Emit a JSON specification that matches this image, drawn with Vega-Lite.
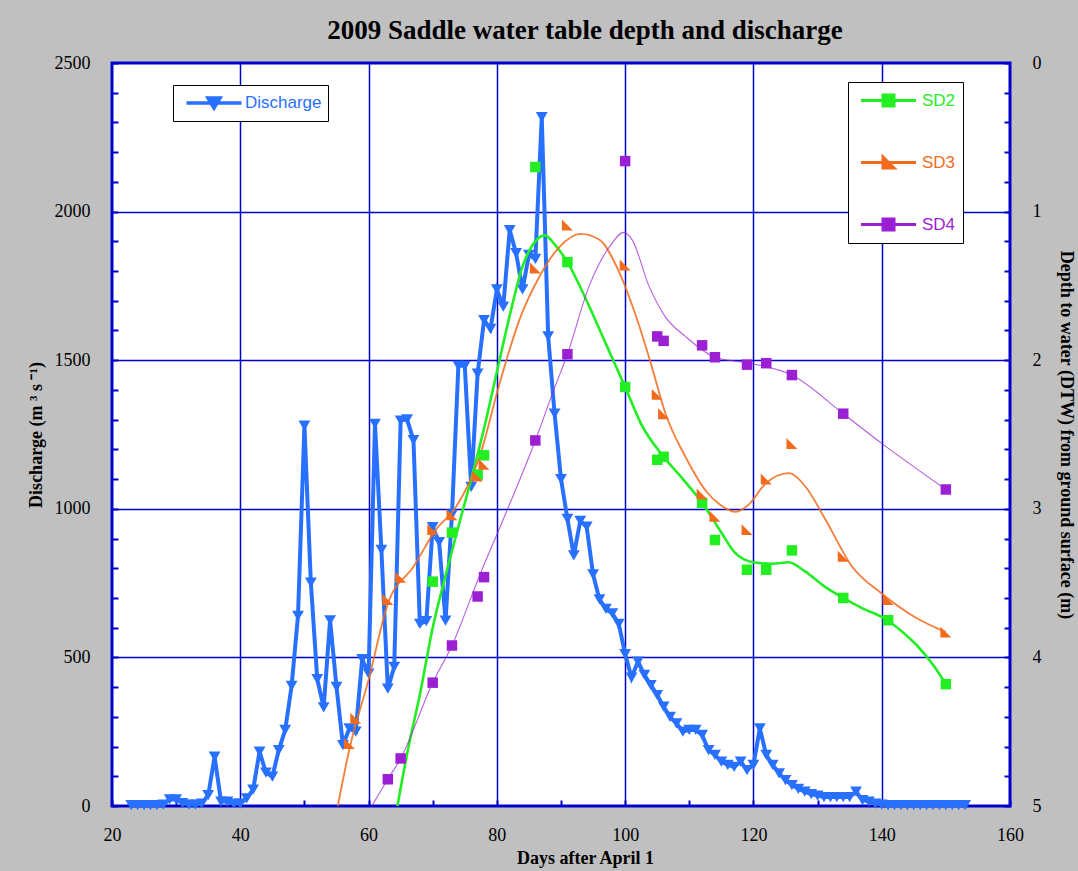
{
  "$schema": "https://vega.github.io/schema/vega-lite/v6.json",
  "width": 898,
  "height": 743,
  "autosize": {"type": "none"},
  "padding": {"left": 112, "top": 63, "right": 68, "bottom": 65},
  "background": "#c0c0c0",
  "title": {"text": "2009 Saddle water table depth and discharge", "font": "Liberation Serif", "fontSize": 27, "fontWeight": "bold", "color": "black", "anchor": "middle", "offset": 9, "dx": 24},
  "config": {
    "view": {"fill": "white", "stroke": "#0000cc", "strokeWidth": 3},
    "axis": {
      "domain": false,
      "tickColor": "#0000cc",
      "tickWidth": 2,
      "tickSize": -6,
      "labelFont": "Liberation Serif",
      "labelFontSize": 18,
      "labelColor": "black",
      "labelOverlap": false,
      "labelFlush": false,
      "titleFont": "Liberation Serif",
      "titleFontSize": 18,
      "titleFontWeight": "bold",
      "titleColor": "black",
      "gridWidth": 1.5
    }
  },
  "datasets": {
    "discharge": [
      {"day": 23, "q": 3}, {"day": 24, "q": 3}, {"day": 25, "q": 3}, {"day": 26, "q": 3}, {"day": 27, "q": 3},
      {"day": 28, "q": 5}, {"day": 29, "q": 22}, {"day": 30, "q": 22}, {"day": 31, "q": 10}, {"day": 32, "q": 5},
      {"day": 33, "q": 5}, {"day": 34, "q": 8}, {"day": 35, "q": 37}, {"day": 36, "q": 166}, {"day": 37, "q": 15},
      {"day": 38, "q": 15}, {"day": 39, "q": 8}, {"day": 40, "q": 8}, {"day": 41, "q": 26}, {"day": 42, "q": 55},
      {"day": 43, "q": 183}, {"day": 44, "q": 112}, {"day": 45, "q": 99}, {"day": 46, "q": 188}, {"day": 47, "q": 256},
      {"day": 48, "q": 404}, {"day": 49, "q": 640}, {"day": 50, "q": 1280}, {"day": 51, "q": 752}, {"day": 52, "q": 427},
      {"day": 53, "q": 332}, {"day": 54, "q": 625}, {"day": 55, "q": 401}, {"day": 56, "q": 205}, {"day": 57, "q": 261},
      {"day": 58, "q": 250}, {"day": 59, "q": 494}, {"day": 60, "q": 445}, {"day": 61, "q": 1286}, {"day": 62, "q": 862},
      {"day": 63, "q": 395}, {"day": 64, "q": 468}, {"day": 65, "q": 1297}, {"day": 66, "q": 1301}, {"day": 67, "q": 1231},
      {"day": 68, "q": 613}, {"day": 69, "q": 622}, {"day": 70, "q": 938}, {"day": 71, "q": 888}, {"day": 72, "q": 624},
      {"day": 73, "q": 980}, {"day": 74, "q": 1481}, {"day": 75, "q": 1481}, {"day": 76, "q": 1074}, {"day": 77, "q": 1455},
      {"day": 78, "q": 1635}, {"day": 79, "q": 1605}, {"day": 80, "q": 1738}, {"day": 81, "q": 1680}, {"day": 82, "q": 1938},
      {"day": 83, "q": 1860}, {"day": 84, "q": 1738}, {"day": 85, "q": 1854}, {"day": 86, "q": 1841}, {"day": 87, "q": 2318},
      {"day": 88, "q": 1580}, {"day": 89, "q": 1320}, {"day": 90, "q": 1100}, {"day": 91, "q": 966}, {"day": 92, "q": 843},
      {"day": 93, "q": 959}, {"day": 94, "q": 940}, {"day": 95, "q": 779}, {"day": 96, "q": 695}, {"day": 97, "q": 663},
      {"day": 98, "q": 648}, {"day": 99, "q": 613}, {"day": 100, "q": 511}, {"day": 101, "q": 432}, {"day": 102, "q": 486},
      {"day": 103, "q": 441}, {"day": 104, "q": 407}, {"day": 105, "q": 373}, {"day": 106, "q": 334}, {"day": 107, "q": 300},
      {"day": 108, "q": 278}, {"day": 109, "q": 250}, {"day": 110, "q": 256}, {"day": 111, "q": 256}, {"day": 112, "q": 239},
      {"day": 113, "q": 188}, {"day": 114, "q": 172}, {"day": 115, "q": 149}, {"day": 116, "q": 138}, {"day": 117, "q": 132},
      {"day": 118, "q": 149}, {"day": 119, "q": 121}, {"day": 120, "q": 138}, {"day": 121, "q": 261}, {"day": 122, "q": 172},
      {"day": 123, "q": 138}, {"day": 124, "q": 110}, {"day": 125, "q": 87}, {"day": 126, "q": 70}, {"day": 127, "q": 58},
      {"day": 128, "q": 48}, {"day": 129, "q": 40}, {"day": 130, "q": 35}, {"day": 131, "q": 30}, {"day": 132, "q": 30},
      {"day": 133, "q": 30}, {"day": 134, "q": 30}, {"day": 135, "q": 30}, {"day": 136, "q": 48}, {"day": 137, "q": 20},
      {"day": 138, "q": 15}, {"day": 139, "q": 8}, {"day": 140, "q": 5}, {"day": 141, "q": 3}, {"day": 142, "q": 3},
      {"day": 143, "q": 3}, {"day": 144, "q": 3}, {"day": 145, "q": 3}, {"day": 146, "q": 3}, {"day": 147, "q": 3},
      {"day": 148, "q": 3}, {"day": 149, "q": 3}, {"day": 150, "q": 3}, {"day": 151, "q": 3}, {"day": 152, "q": 3},
      {"day": 153, "q": 3}
    ],
    "sdpoints": [
      {"series": "SD2", "day": 70, "depth": 3.49}, {"series": "SD2", "day": 73, "depth": 3.16},
      {"series": "SD2", "day": 77, "depth": 2.77}, {"series": "SD2", "day": 78, "depth": 2.64},
      {"series": "SD2", "day": 86, "depth": 0.70}, {"series": "SD2", "day": 91, "depth": 1.34},
      {"series": "SD2", "day": 100, "depth": 2.18}, {"series": "SD2", "day": 105, "depth": 2.67},
      {"series": "SD2", "day": 106, "depth": 2.65}, {"series": "SD2", "day": 112, "depth": 2.96},
      {"series": "SD2", "day": 114, "depth": 3.21}, {"series": "SD2", "day": 119, "depth": 3.41},
      {"series": "SD2", "day": 122, "depth": 3.41}, {"series": "SD2", "day": 126, "depth": 3.28},
      {"series": "SD2", "day": 134, "depth": 3.60}, {"series": "SD2", "day": 141, "depth": 3.75},
      {"series": "SD2", "day": 150, "depth": 4.18},
      {"series": "SD3", "day": 57, "depth": 4.58}, {"series": "SD3", "day": 58, "depth": 4.41},
      {"series": "SD3", "day": 63, "depth": 3.61}, {"series": "SD3", "day": 65, "depth": 3.46},
      {"series": "SD3", "day": 70, "depth": 3.14}, {"series": "SD3", "day": 73, "depth": 3.04},
      {"series": "SD3", "day": 77, "depth": 2.78}, {"series": "SD3", "day": 78, "depth": 2.70},
      {"series": "SD3", "day": 86, "depth": 1.38}, {"series": "SD3", "day": 91, "depth": 1.09},
      {"series": "SD3", "day": 100, "depth": 1.36}, {"series": "SD3", "day": 105, "depth": 2.23},
      {"series": "SD3", "day": 106, "depth": 2.36}, {"series": "SD3", "day": 112, "depth": 2.90},
      {"series": "SD3", "day": 114, "depth": 3.05}, {"series": "SD3", "day": 119, "depth": 3.14},
      {"series": "SD3", "day": 122, "depth": 2.80}, {"series": "SD3", "day": 126, "depth": 2.56},
      {"series": "SD3", "day": 134, "depth": 3.32}, {"series": "SD3", "day": 141, "depth": 3.61},
      {"series": "SD3", "day": 150, "depth": 3.83},
      {"series": "SD4", "day": 63, "depth": 4.82}, {"series": "SD4", "day": 65, "depth": 4.68},
      {"series": "SD4", "day": 70, "depth": 4.17}, {"series": "SD4", "day": 73, "depth": 3.92},
      {"series": "SD4", "day": 77, "depth": 3.59}, {"series": "SD4", "day": 78, "depth": 3.46},
      {"series": "SD4", "day": 86, "depth": 2.54}, {"series": "SD4", "day": 91, "depth": 1.96},
      {"series": "SD4", "day": 100, "depth": 0.66}, {"series": "SD4", "day": 105, "depth": 1.84},
      {"series": "SD4", "day": 106, "depth": 1.87}, {"series": "SD4", "day": 112, "depth": 1.90},
      {"series": "SD4", "day": 114, "depth": 1.98}, {"series": "SD4", "day": 119, "depth": 2.03},
      {"series": "SD4", "day": 122, "depth": 2.02}, {"series": "SD4", "day": 126, "depth": 2.10},
      {"series": "SD4", "day": 134, "depth": 2.36}, {"series": "SD4", "day": 150, "depth": 2.87}
    ],
    "sdfit": [
      {"series": "SD2", "day": 64.5, "depth": 5.0}, {"series": "SD2", "day": 66, "depth": 4.65},
      {"series": "SD2", "day": 68, "depth": 4.25}, {"series": "SD2", "day": 70, "depth": 3.8},
      {"series": "SD2", "day": 72, "depth": 3.45}, {"series": "SD2", "day": 74, "depth": 3.12},
      {"series": "SD2", "day": 76, "depth": 2.8}, {"series": "SD2", "day": 78, "depth": 2.46},
      {"series": "SD2", "day": 80, "depth": 2.08}, {"series": "SD2", "day": 82, "depth": 1.7},
      {"series": "SD2", "day": 84, "depth": 1.37}, {"series": "SD2", "day": 86, "depth": 1.2},
      {"series": "SD2", "day": 87.5, "depth": 1.16}, {"series": "SD2", "day": 89, "depth": 1.22},
      {"series": "SD2", "day": 91, "depth": 1.34}, {"series": "SD2", "day": 94, "depth": 1.6},
      {"series": "SD2", "day": 97, "depth": 1.89}, {"series": "SD2", "day": 100, "depth": 2.18},
      {"series": "SD2", "day": 102.5, "depth": 2.43}, {"series": "SD2", "day": 106, "depth": 2.65},
      {"series": "SD2", "day": 109, "depth": 2.8}, {"series": "SD2", "day": 112, "depth": 2.96},
      {"series": "SD2", "day": 115, "depth": 3.16}, {"series": "SD2", "day": 117, "depth": 3.29},
      {"series": "SD2", "day": 120, "depth": 3.36}, {"series": "SD2", "day": 123, "depth": 3.37},
      {"series": "SD2", "day": 125.5, "depth": 3.36}, {"series": "SD2", "day": 128, "depth": 3.42},
      {"series": "SD2", "day": 131, "depth": 3.52}, {"series": "SD2", "day": 134, "depth": 3.6},
      {"series": "SD2", "day": 137, "depth": 3.67}, {"series": "SD2", "day": 140.5, "depth": 3.74},
      {"series": "SD2", "day": 143, "depth": 3.82}, {"series": "SD2", "day": 145.5, "depth": 3.92},
      {"series": "SD2", "day": 148, "depth": 4.05}, {"series": "SD2", "day": 150, "depth": 4.18},
      {"series": "SD3", "day": 55.2, "depth": 5.0}, {"series": "SD3", "day": 57, "depth": 4.62},
      {"series": "SD3", "day": 60, "depth": 4.15}, {"series": "SD3", "day": 63, "depth": 3.64},
      {"series": "SD3", "day": 67, "depth": 3.39}, {"series": "SD3", "day": 70.5, "depth": 3.14},
      {"series": "SD3", "day": 73.6, "depth": 2.99}, {"series": "SD3", "day": 77.3, "depth": 2.65},
      {"series": "SD3", "day": 80.4, "depth": 2.16}, {"series": "SD3", "day": 83.5, "depth": 1.73},
      {"series": "SD3", "day": 86.6, "depth": 1.44}, {"series": "SD3", "day": 89.7, "depth": 1.24},
      {"series": "SD3", "day": 93.1, "depth": 1.15}, {"series": "SD3", "day": 96, "depth": 1.19},
      {"series": "SD3", "day": 99.1, "depth": 1.41}, {"series": "SD3", "day": 102.2, "depth": 1.77},
      {"series": "SD3", "day": 104, "depth": 2.02}, {"series": "SD3", "day": 106.3, "depth": 2.36},
      {"series": "SD3", "day": 109.4, "depth": 2.65}, {"series": "SD3", "day": 112.6, "depth": 2.88},
      {"series": "SD3", "day": 114.7, "depth": 2.97}, {"series": "SD3", "day": 117.2, "depth": 3.02},
      {"series": "SD3", "day": 119.3, "depth": 2.97}, {"series": "SD3", "day": 121.9, "depth": 2.83},
      {"series": "SD3", "day": 125.5, "depth": 2.76}, {"series": "SD3", "day": 128.1, "depth": 2.85},
      {"series": "SD3", "day": 131.2, "depth": 3.07}, {"series": "SD3", "day": 135.4, "depth": 3.39},
      {"series": "SD3", "day": 140, "depth": 3.57}, {"series": "SD3", "day": 145.2, "depth": 3.73},
      {"series": "SD3", "day": 150, "depth": 3.83},
      {"series": "SD4", "day": 60.5, "depth": 5.0}, {"series": "SD4", "day": 63, "depth": 4.82},
      {"series": "SD4", "day": 65, "depth": 4.68}, {"series": "SD4", "day": 70, "depth": 4.17},
      {"series": "SD4", "day": 73, "depth": 3.92}, {"series": "SD4", "day": 77.3, "depth": 3.45},
      {"series": "SD4", "day": 81.4, "depth": 3.03}, {"series": "SD4", "day": 86, "depth": 2.54},
      {"series": "SD4", "day": 88.7, "depth": 2.22}, {"series": "SD4", "day": 91, "depth": 1.96},
      {"series": "SD4", "day": 94.4, "depth": 1.5}, {"series": "SD4", "day": 97.5, "depth": 1.24},
      {"series": "SD4", "day": 99.8, "depth": 1.14}, {"series": "SD4", "day": 101.1, "depth": 1.19},
      {"series": "SD4", "day": 103.7, "depth": 1.5}, {"series": "SD4", "day": 106.3, "depth": 1.71},
      {"series": "SD4", "day": 109.4, "depth": 1.84}, {"series": "SD4", "day": 114, "depth": 1.98},
      {"series": "SD4", "day": 119.3, "depth": 2.02}, {"series": "SD4", "day": 126, "depth": 2.1},
      {"series": "SD4", "day": 134, "depth": 2.36}, {"series": "SD4", "day": 140, "depth": 2.56},
      {"series": "SD4", "day": 150, "depth": 2.87}
    ]
  },
  "layer": [
    {
      "data": {"name": "discharge"},
      "encoding": {
        "x": {
          "field": "day", "type": "quantitative",
          "scale": {"domain": [20, 160], "nice": false, "zero": false},
          "axis": {
            "values": [20,25,30,35,40,45,50,55,60,65,70,75,80,85,90,95,100,105,110,115,120,125,130,135,140,145,150,155,160],
            "labelExpr": "datum.value % 20 === 0 ? datum.label : ''",
            "grid": true,
            "gridColor": {"condition": {"test": "datum.value % 20 === 0 && datum.value > 20 && datum.value < 160", "value": "#0000cc"}, "value": "transparent"},
            "labelPadding": 26,
            "title": "Days after April 1",
            "titlePadding": 5,
            "titleX": 473
          }
        },
        "y": {
          "field": "q", "type": "quantitative",
          "scale": {"domain": [0, 2500], "nice": false},
          "axis": {
            "orient": "left",
            "values": [0,100,200,300,400,500,600,700,800,900,1000,1100,1200,1300,1400,1500,1600,1700,1800,1900,2000,2100,2200,2300,2400,2500],
            "labelExpr": "datum.value % 500 === 0 ? datum.label : ''",
            "format": "d",
            "grid": true,
            "gridColor": {"condition": {"test": "datum.value % 500 === 0 && datum.value > 0 && datum.value < 2500", "value": "#0000cc"}, "value": "transparent"},
            "labelPadding": 28,
            "title": "Discharge (m ³ s ⁻¹)",
            "titlePadding": 9
          }
        },
        "color": {
          "datum": "Discharge", "type": "nominal",
          "scale": {"domain": ["Discharge"], "range": ["#2870ff"]},
          "legend": {
            "title": null,
            "orient": "none",
            "legendX": 61,
            "legendY": 22,
            "strokeColor": "black",
            "fillColor": "white",
            "padding": 6,
            "symbolSize": 400,
            "symbolOffset": 23,
            "labelOffset": 19,
            "labelFont": "Liberation Sans",
            "labelFontSize": 17,
            "labelColor": "#2870ff",
            "encode": {
              "symbols": {"update": {
                "shape": {"value": "M-2.75,0H2.75M-0.6,-0.5H0.6L0,0.5Z"},
                "stroke": {"value": "#2870ff"},
                "fill": {"value": "#2870ff"},
                "strokeWidth": {"value": 3.5},
                "opacity": {"value": 1}
              }}
            }
          }
        }
      },
      "layer": [
        {"mark": {"type": "line", "strokeWidth": 4}},
        {"mark": {"type": "point", "shape": "triangle-down", "filled": true, "size": 140, "opacity": 1}}
      ]
    },
    {
      "encoding": {
        "x": {"field": "day", "type": "quantitative", "scale": {"domain": [20, 160], "nice": false, "zero": false}},
        "y": {
          "field": "depth", "type": "quantitative",
          "scale": {"domain": [0, 5], "reverse": true, "nice": false},
          "axis": {
            "orient": "right",
            "values": [0,0.2,0.4,0.6,0.8,1,1.2,1.4,1.6,1.8,2,2.2,2.4,2.6,2.8,3,3.2,3.4,3.6,3.8,4,4.2,4.4,4.6,4.8,5],
            "labelExpr": "datum.value % 1 === 0 ? format(datum.value, 'd') : ''",
            "labelOverlap": false,
            "grid": false,
            "labelPadding": 28,
            "title": "Depth to water (DTW) from ground surface (m)",
            "titlePadding": 15
          }
        }
      },
      "layer": [
        {
          "data": {"name": "sdfit"},
          "mark": {"type": "line", "interpolate": "monotone"},
          "encoding": {
            "color": {
              "field": "series", "type": "nominal",
              "scale": {"domain": ["SD2", "SD3", "SD4"], "range": ["#22ee22", "#f26b1d", "#9b1fd3"]},
              "legend": {
                "title": null,
                "orient": "none",
                "legendX": 736,
                "legendY": 19,
                "strokeColor": "black",
                "fillColor": "white",
                "padding": 7,
                "rowPadding": 39,
                "symbolSize": 400,
                "symbolOffset": 22,
                "labelOffset": 22,
                "labelFont": "Liberation Sans",
                "labelFontSize": 17,
                "labelColor": {"expr": "datum.value === 'SD2' ? '#22ee22' : datum.value === 'SD3' ? '#f26b1d' : '#9b1fd3'"},
                "encode": {
                  "symbols": {"update": {
                    "shape": {"signal": "datum.value === 'SD3' ? 'M-2.75,0H2.75M-0.55,-0.55L0.55,0.55L-0.55,0.55Z' : 'M-2.75,0H2.75M-0.55,-0.55H0.55V0.55H-0.55Z'"},
                    "fill": {"signal": "datum.value === 'SD2' ? '#22ee22' : datum.value === 'SD3' ? '#f26b1d' : '#9b1fd3'"},
                    "strokeWidth": {"value": 3},
                    "opacity": {"value": 1},
                    "strokeOpacity": {"value": 1}
                  }},
                  "labels": {"update": {
                    "fill": {"signal": "datum.value === 'SD2' ? '#22ee22' : datum.value === 'SD3' ? '#f26b1d' : '#9b1fd3'"}
                  }}
                }
              }
            },
            "opacity": {"field": "series", "type": "nominal", "scale": {"domain": ["SD2", "SD3", "SD4"], "range": [1, 0.72, 0.72]}, "legend": null},
            "strokeWidth": {"field": "series", "type": "nominal", "scale": {"domain": ["SD2", "SD3", "SD4"], "range": [2.6, 1.1, 1.1]}, "legend": null}
          }
        },
        {
          "data": {"name": "sdpoints"},
          "encoding": {
            "fill": {
              "field": "series", "type": "nominal",
              "scale": {"domain": ["SD2", "SD3", "SD4"], "range": ["#22ee22", "#f26b1d", "#9b1fd3"]},
              "legend": null
            }
          },
          "layer": [
            {
              "transform": [{"filter": "datum.series !== 'SD3'"}],
              "mark": {"type": "point", "shape": "square", "filled": true, "opacity": 1, "size": 110, "strokeWidth": 0}
            },
            {
              "transform": [{"filter": "datum.series === 'SD3'"}],
              "mark": {"type": "point", "shape": "M-1,-1L1,1L-1,1Z", "filled": true, "opacity": 1, "size": 120, "strokeWidth": 0}
            }
          ]
        }
      ]
    }
  ],
  "resolve": {"scale": {"y": "independent", "color": "independent"}, "legend": {"color": "independent"}}
}
